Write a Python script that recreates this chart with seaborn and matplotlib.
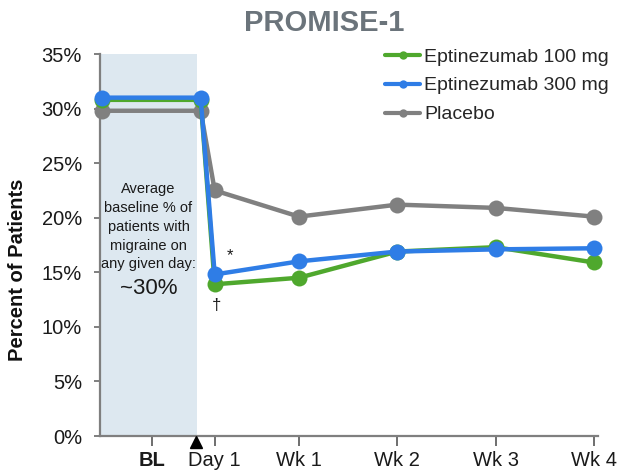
import matplotlib
matplotlib.use("Agg")
import matplotlib.pyplot as plt
from matplotlib.lines import Line2D
import seaborn as sns
import pandas as pd

# ---- data ----
timepoints_wk = [-1, 0, 1 / 7, 1, 2, 3, 4]
tick_labels = ["BL", "Day 1", "Wk 1", "Wk 2", "Wk 3", "Wk 4"]
tick_pos_wk = [-0.5, 1 / 7, 1, 2, 3, 4]
groups = ["Eptinezumab 100 mg", "Eptinezumab 300 mg", "Placebo"]
epti_100 = [30.8, 30.8, 13.9, 14.5, 16.9, 17.3, 15.9]
epti_300 = [31.0, 31.0, 14.8, 16.0, 16.9, 17.1, 17.2]
placebo = [29.8, 29.8, 22.5, 20.1, 21.2, 20.9, 20.1]
yticks = [0, 5, 10, 15, 20, 25, 30, 35]

colors = {"Eptinezumab 100 mg": "#4fa82d",
          "Eptinezumab 300 mg": "#2f7de6",
          "Placebo": "#808080"}

df = pd.DataFrame({
    "week": timepoints_wk * 3,
    "pct": epti_100 + epti_300 + placebo,
    "group": [groups[0]] * 7 + [groups[1]] * 7 + [groups[2]] * 7,
})

sns.set_theme(style="white")
plt.rcParams["font.family"] = ["Liberation Sans", "DejaVu Sans"]

fig = plt.figure(figsize=(6.23, 4.71), dpi=100)
ax = fig.add_axes([100 / 623, 1 - 436 / 471, 498 / 623, 382 / 471])

# baseline shaded region
ax.axvspan(-1.03, -0.04, color="#dde8f0", zorder=0, lw=0)

sns.lineplot(data=df, x="week", y="pct", hue="group",
             hue_order=["Placebo", "Eptinezumab 100 mg", "Eptinezumab 300 mg"],
             palette=colors, marker="o", markersize=11.5, markeredgewidth=0,
             linewidth=3.2, legend=False, ax=ax, clip_on=False, zorder=3)

ax.set_xlim(-1.024, 4.042)
ax.set_ylim(0, 35)
ax.set_yticks(yticks)
ax.set_yticklabels([f"{v}%" for v in yticks], fontsize=14.5, color="#1a1a1a")
ax.set_xticks(tick_pos_wk)
ax.set_xticklabels(tick_labels, fontsize=14.5, color="#1a1a1a")
ax.get_xticklabels()[0].set_fontweight("bold")
ax.xaxis.get_major_ticks()[0].tick1line.set_visible(False)

ax.set_xlabel("")
ax.set_ylabel("Percent of Patients", fontsize=14.5, fontweight="bold",
              color="#111111")
ax.yaxis.set_label_coords(-0.147, 0.435)

for s in ["top", "right"]:
    ax.spines[s].set_visible(False)
for s in ["left", "bottom"]:
    ax.spines[s].set_color("#7f7f7f")
    ax.spines[s].set_linewidth(1.6)
ax.tick_params(axis="y", direction="out", length=4, width=1.4,
               color="#7f7f7f", pad=9, left=True)
ax.tick_params(axis="x", direction="out", length=7, width=1.2,
               color="#555555", pad=4, bottom=True)

# baseline marker triangle
ax.plot([-0.05], [-0.55], marker="^", color="black", markersize=9,
        clip_on=False, zorder=5)

# box text
ax.text(-0.53, 23.3, "Average\nbaseline % of\npatients with\nmigraine on\nany given day:",
        ha="center", va="top", fontsize=10.5, color="#1a1a1a", linespacing=1.45)
ax.text(-0.53, 13.5, "~30%", ha="center", va="center", fontsize=16, color="#1a1a1a")

# significance marks
ax.text(0.3, 16.5, "*", ha="center", va="center", fontsize=12, color="#1a1a1a")
ax.text(0.16, 12.0, "\u2020", ha="center", va="center", fontsize=12, color="#1a1a1a")

# legend
handles = [Line2D([0], [0], color=colors[g], lw=3, marker="o", markersize=6,
                  markeredgewidth=0) for g in groups]
fig.legend(handles, groups, loc="upper left", bbox_to_anchor=(385 / 623, 1 - 48 / 471),
           frameon=False, fontsize=14, handlelength=1.8, handletextpad=0.2,
           labelspacing=0.58, borderaxespad=0, borderpad=0)

fig.text(324 / 623, 1 - 23 / 471, "PROMISE-1", ha="center", va="center",
         fontsize=21, fontweight="bold", color="#6b747b")

fig.savefig("out.png", dpi=100, facecolor="white")
